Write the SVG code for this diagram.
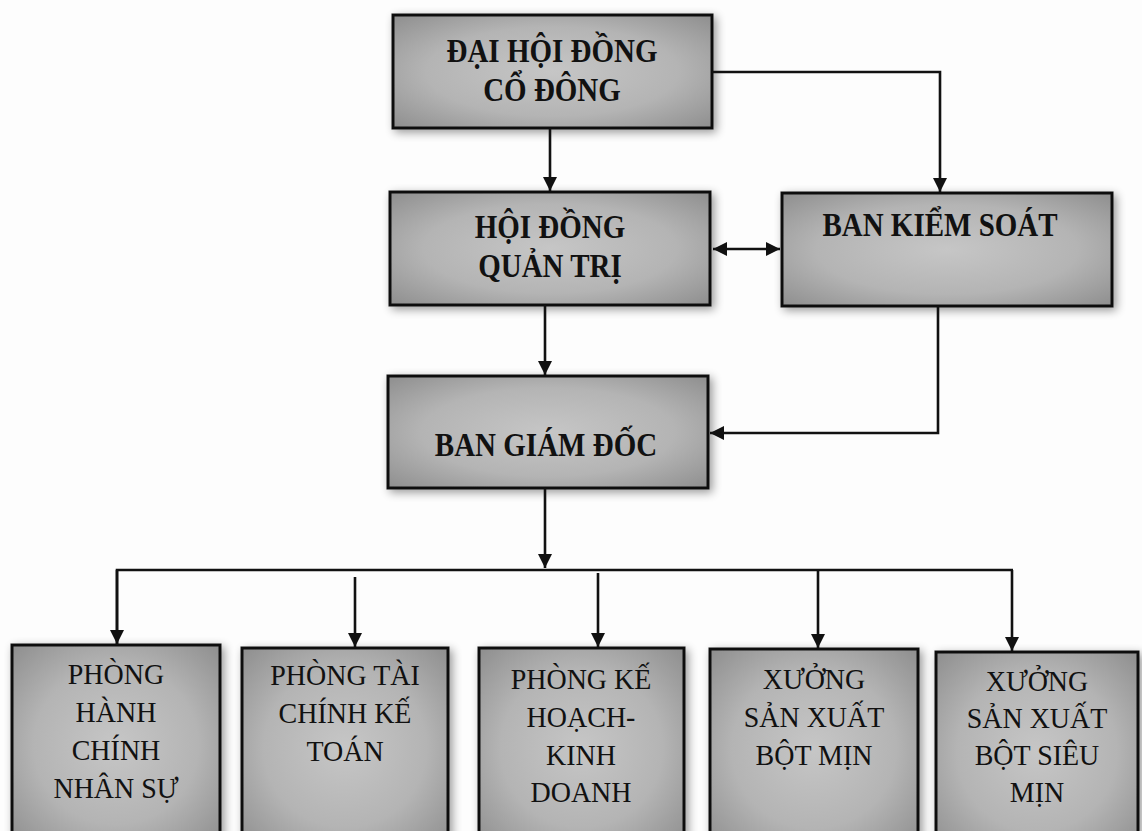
<svg xmlns="http://www.w3.org/2000/svg" width="1142" height="831" viewBox="0 0 1142 831">
<defs>
<radialGradient id="g" cx="50%" cy="50%" r="72%">
<stop offset="0" stop-color="#c6c6c6"/>
<stop offset="0.55" stop-color="#b4b4b4"/>
<stop offset="1" stop-color="#8c8c8c"/>
</radialGradient>
<filter id="sh" x="-10%" y="-10%" width="120%" height="125%">
<feGaussianBlur in="SourceAlpha" stdDeviation="5"/>
<feOffset dx="3" dy="3"/>
<feComponentTransfer><feFuncA type="linear" slope="0.4"/></feComponentTransfer>
<feMerge><feMergeNode/><feMergeNode in="SourceGraphic"/></feMerge>
</filter>
<marker id="ah" viewBox="0 0 10 10" refX="10" refY="5" markerWidth="5.5" markerHeight="5.5" orient="auto-start-reverse" markerUnits="strokeWidth">
<path d="M0,0 L10,5 L0,10 Z" fill="#111"/>
</marker>
</defs>
<style>
.box{fill:url(#g);stroke:#111;stroke-width:3;filter:url(#sh)}
.tb{font-family:"Liberation Serif","Times New Roman",serif;font-weight:bold;font-size:29px;fill:#111;text-anchor:middle}
.tr{font-family:"Liberation Serif","Times New Roman",serif;font-size:28px;fill:#111;text-anchor:middle}
.c{fill:none;stroke:#111;stroke-width:2.6}
.a{marker-end:url(#ah)}
</style>
<rect width="1142" height="831" fill="#fdfdfd"/>
<g id="n_dhdcd"><rect class="box" x="393" y="15" width="319" height="113"/>
<text class="tb" transform="translate(552,62) scale(1,1.15)">ĐẠI HỘI ĐỒNG</text><text class="tb" transform="translate(552,101) scale(1,1.15)">CỔ ĐÔNG</text></g>
<g id="n_hdqt"><rect class="box" x="390" y="192" width="320" height="113"/>
<text class="tb" transform="translate(550,238) scale(1,1.15)">HỘI ĐỒNG</text><text class="tb" transform="translate(550,277) scale(1,1.15)">QUẢN TRỊ</text></g>
<g id="n_bks"><rect class="box" x="782" y="193" width="330" height="113"/>
<text class="tb" transform="translate(940,236) scale(1,1.15)">BAN KIỂM SOÁT</text></g>
<g id="n_bgd"><rect class="box" x="388" y="376" width="320" height="112"/>
<text class="tb" transform="translate(546,456) scale(1,1.15)">BAN GIÁM ĐỐC</text></g>
<g id="n_hcns"><rect class="box" x="12" y="645" width="208" height="200"/>
<text class="tr" transform="translate(116,684) scale(1,1.08)">PHÒNG</text><text class="tr" transform="translate(116,722) scale(1,1.08)">HÀNH</text><text class="tr" transform="translate(116,760) scale(1,1.08)">CHÍNH</text><text class="tr" transform="translate(116,798) scale(1,1.08)">NHÂN SỰ</text></g>
<g id="n_tckt"><rect class="box" x="242" y="648" width="206" height="200"/>
<text class="tr" transform="translate(345,685) scale(1,1.08)">PHÒNG TÀI</text><text class="tr" transform="translate(345,723) scale(1,1.08)">CHÍNH KẾ</text><text class="tr" transform="translate(345,761) scale(1,1.08)">TOÁN</text></g>
<g id="n_khkd"><rect class="box" x="479" y="648" width="205" height="200"/>
<text class="tr" transform="translate(581,689) scale(1,1.08)">PHÒNG KẾ</text><text class="tr" transform="translate(581,727) scale(1,1.08)">HOẠCH-</text><text class="tr" transform="translate(581,765) scale(1,1.08)">KINH</text><text class="tr" transform="translate(581,802) scale(1,1.08)">DOANH</text></g>
<g id="n_bm"><rect class="box" x="710" y="649" width="208" height="200"/>
<text class="tr" transform="translate(814,689) scale(1,1.08)">XƯỞNG</text><text class="tr" transform="translate(814,727) scale(1,1.08)">SẢN XUẤT</text><text class="tr" transform="translate(814,765) scale(1,1.08)">BỘT MỊN</text></g>
<g id="n_bsm"><rect class="box" x="936" y="652" width="202" height="200"/>
<text class="tr" transform="translate(1037,691) scale(1,1.08)">XƯỞNG</text><text class="tr" transform="translate(1037,728) scale(1,1.08)">SẢN XUẤT</text><text class="tr" transform="translate(1037,765) scale(1,1.08)">BỘT SIÊU</text><text class="tr" transform="translate(1037,802) scale(1,1.08)">MỊN</text></g>
<g id="connectors">
<path class="c a" d="M550,128 V191"/>
<path class="c a" d="M712,72 H940 V192"/>
<path class="c a" d="M713,249 H780" style="marker-start:url(#ah)"/>
<path class="c a" d="M545,305 V375"/>
<path class="c a" d="M938,306 V433 H710"/>
<path class="c a" d="M545,488 V568"/>
<path class="c" d="M117,645 V570 H1013"/>
<path class="c a" d="M117,570 V644"/>
<path class="c a" d="M355,577 V647"/>
<path class="c a" d="M598,573 V647"/>
<path class="c a" d="M818,570 V648"/>
<path class="c a" d="M1012,570 V651"/>
</g>
</svg>
